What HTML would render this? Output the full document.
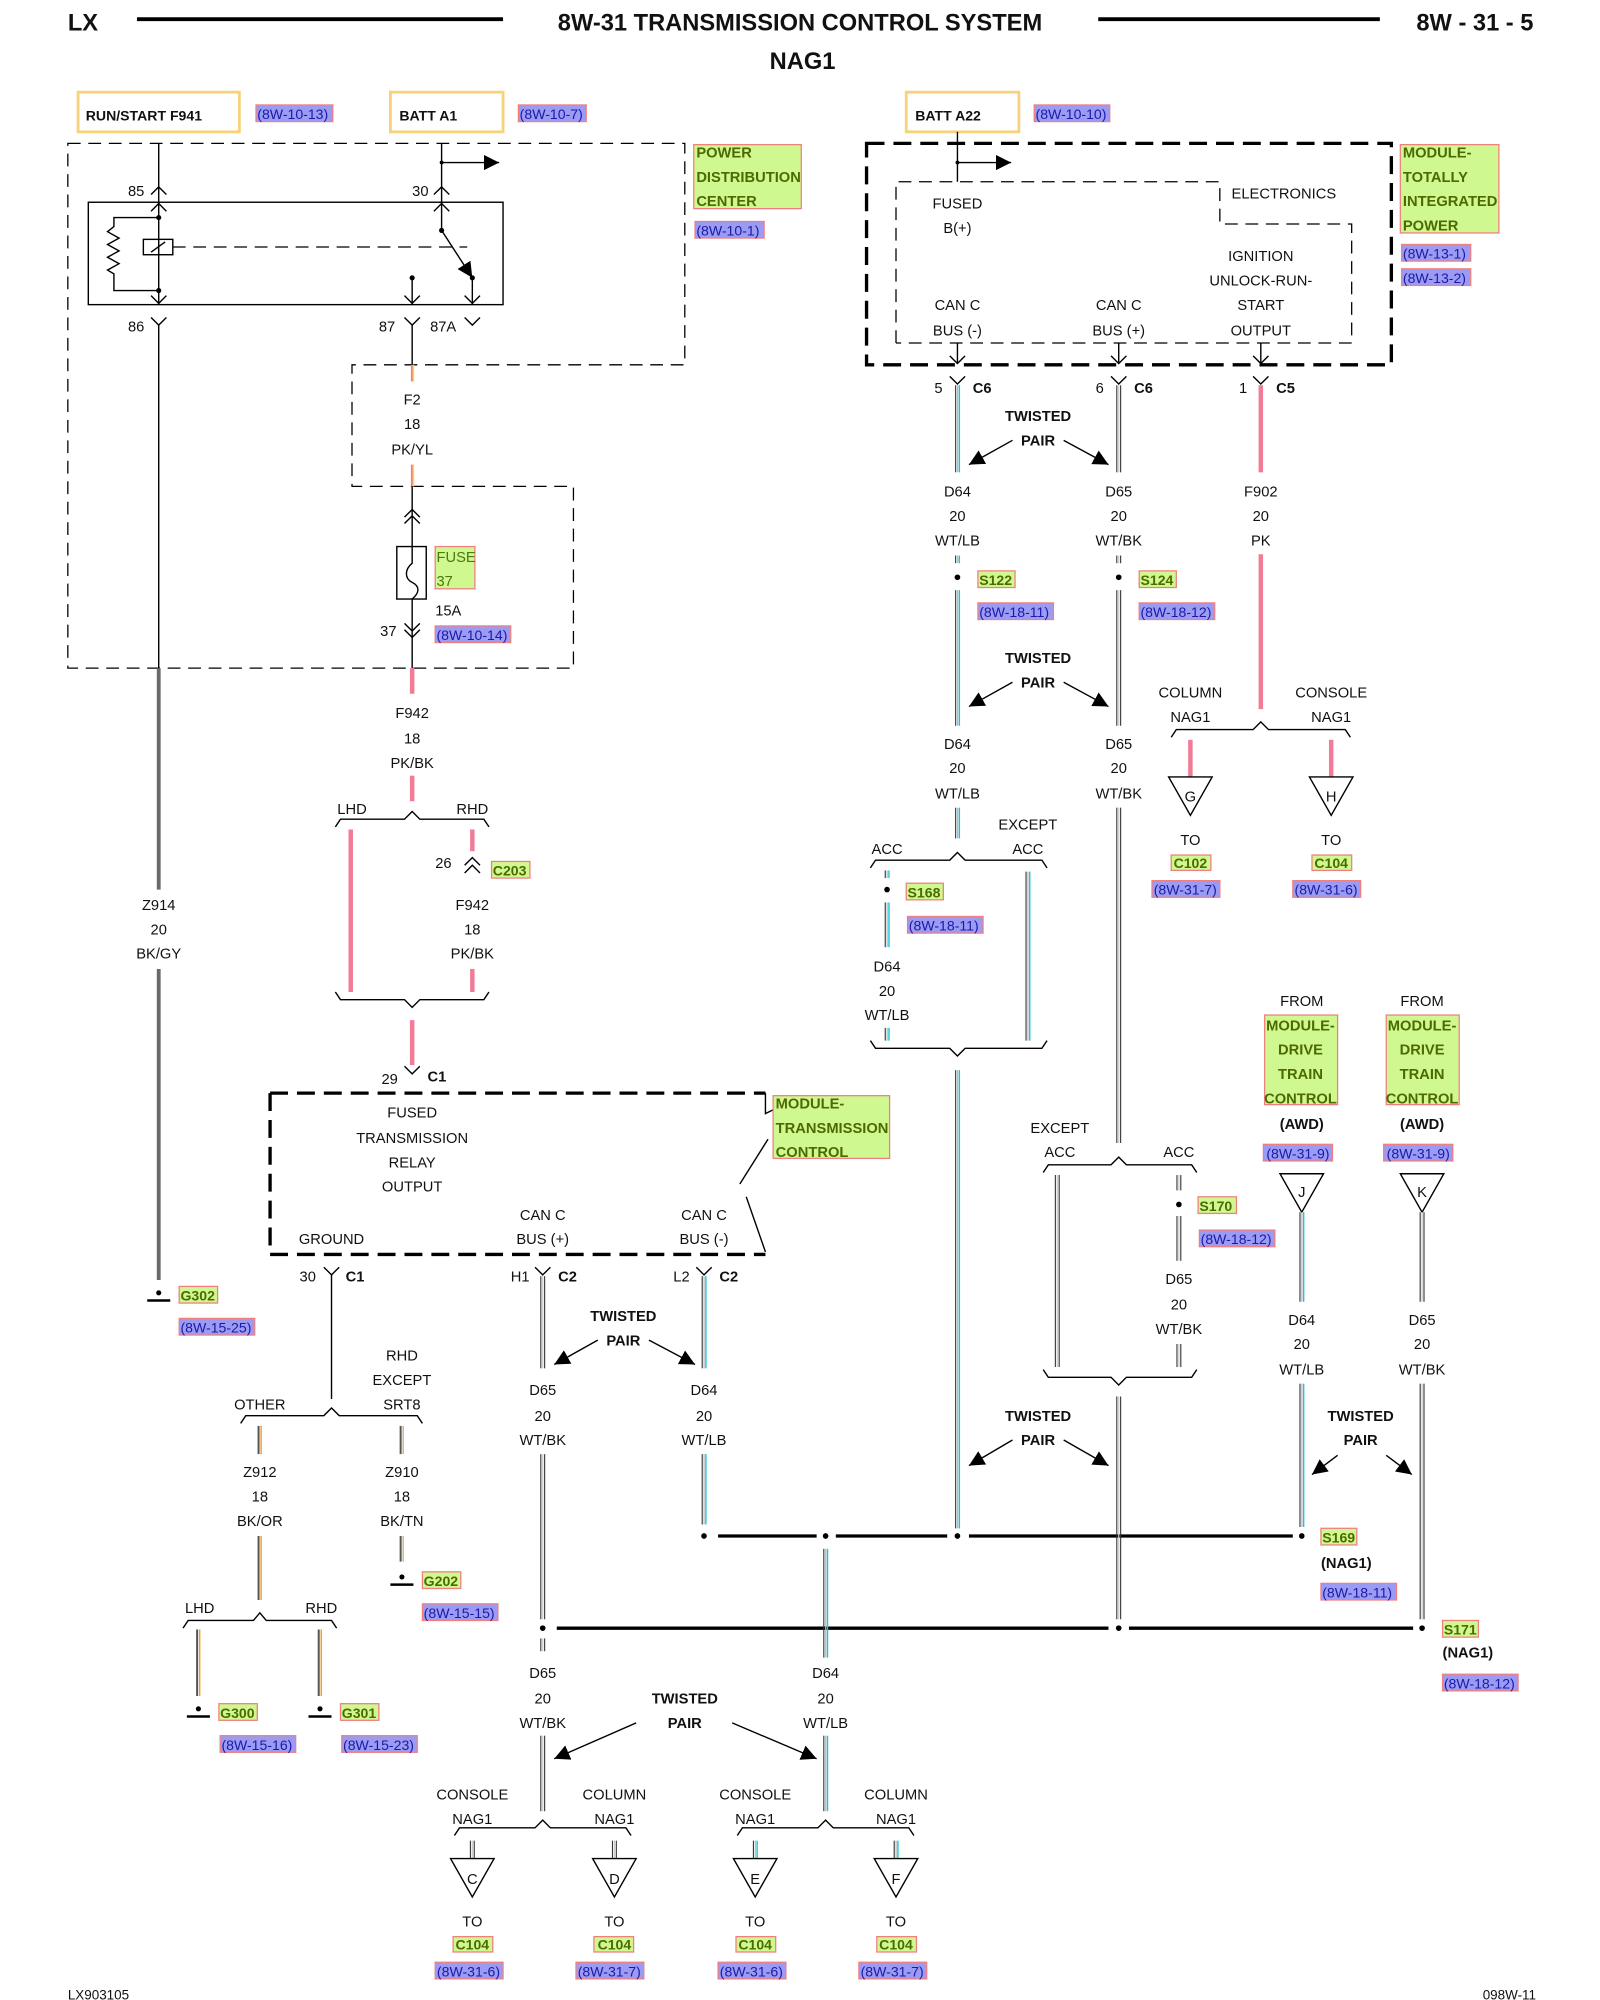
<!DOCTYPE html>
<html><head><meta charset="utf-8"><style>
html,body{margin:0;padding:0;background:#fff}
svg{display:block}
text{font-family:"Liberation Sans",sans-serif;font-size:11.5px;fill:#111}
.m{text-anchor:middle}
.b{font-weight:bold}
.k{stroke:#000;stroke-width:1.1;fill:none}
.d{stroke:#000;stroke-width:1;fill:none;stroke-dasharray:10,6}
.D{stroke:#000;stroke-width:2.6;fill:none;stroke-dasharray:14,7}
.pk{stroke:#f07c98;stroke-width:3.5}
.gw{stroke:#6a6a6a;stroke-width:3}
.yb{fill:none;stroke:#f7d27a;stroke-width:2.2}
.rf{fill:#9b9bf3;stroke:#f08080;stroke-width:1}
.rt{fill:#1a1aa8;font-size:11px}
.gb{fill:#d0f890;stroke:#f08080;stroke-width:1}
.gt{fill:#4c6a00;font-weight:bold;font-size:11.5px}
.gn{fill:#4c7a10;font-size:11.5px}
.bus{stroke:#000;stroke-width:2.6}
</style></head><body>
<svg width="1600" height="2000" viewBox="0 0 1250 1562.5" xmlns="http://www.w3.org/2000/svg">
<defs>
<g id="wc"><line x1="-1.4" y1="0" x2="-1.4" y2="1" stroke="#333" stroke-width="1.1" vector-effect="non-scaling-stroke"/><line x1="0.1" y1="0" x2="0.1" y2="1" stroke="#bbb" stroke-width="1.2" vector-effect="non-scaling-stroke"/><line x1="1.5" y1="0" x2="1.5" y2="1" stroke="#18c8d8" stroke-width="1.4" vector-effect="non-scaling-stroke"/></g>
<g id="wk"><line x1="-1.5" y1="0" x2="-1.5" y2="1" stroke="#333" stroke-width="1.1" vector-effect="non-scaling-stroke"/><line x1="0" y1="0" x2="0" y2="1" stroke="#ccc" stroke-width="1.2" vector-effect="non-scaling-stroke"/><line x1="1.5" y1="0" x2="1.5" y2="1" stroke="#333" stroke-width="1.1" vector-effect="non-scaling-stroke"/></g>
<g id="wo"><line x1="-1" y1="0" x2="-1" y2="1" stroke="#555" stroke-width="2" vector-effect="non-scaling-stroke"/><line x1="1" y1="0" x2="1" y2="1" stroke="#f0a030" stroke-width="1.5" vector-effect="non-scaling-stroke"/></g>
<g id="wt"><line x1="-1" y1="0" x2="-1" y2="1" stroke="#555" stroke-width="2" vector-effect="non-scaling-stroke"/><line x1="1" y1="0" x2="1" y2="1" stroke="#c8b890" stroke-width="1.5" vector-effect="non-scaling-stroke"/></g>
<marker id="ah" viewBox="0 0 10 10" refX="10" refY="5" markerWidth="12" markerHeight="12" markerUnits="userSpaceOnUse" orient="auto"><path d="M0,0L10,5L0,10z" fill="#000"/></marker>
<g id="tri"><path d="M-17,0L17,0L0,30z" fill="#fff" stroke="#000" stroke-width="1.1"/></g>
<g id="gnd"><circle cx="0" cy="-4" r="2" fill="#000"/><line x1="-9" y1="2" x2="9" y2="2" stroke="#000" stroke-width="2"/></g>
</defs>

<!-- header -->
<text x="53" y="24" class="b" style="font-size:18.5px">LX</text>
<line x1="107" y1="15" x2="393" y2="15" stroke="#000" stroke-width="3"/>
<text x="625" y="24" class="b m" style="font-size:18.5px">8W-31 TRANSMISSION CONTROL SYSTEM</text>
<line x1="858" y1="15" x2="1078" y2="15" stroke="#000" stroke-width="3"/>
<text x="1198" y="24" class="b" style="font-size:18.5px;text-anchor:end">8W - 31 - 5</text>
<text x="627" y="54" class="b m" style="font-size:18.5px">NAG1</text>

<!-- top source boxes -->
<rect x="61" y="72" width="126" height="31" class="yb"/><text x="67" y="94" class="b" style="font-size:11px">RUN/START F941</text>
<rect x="200" y="82" width="60" height="13" class="rf"/><text x="201" y="93" class="rt">(8W-10-13)</text>
<rect x="305" y="72" width="88" height="31" class="yb"/><text x="312" y="94" class="b" style="font-size:11px">BATT A1</text>
<rect x="405" y="82" width="53" height="13" class="rf"/><text x="406" y="93" class="rt">(8W-10-7)</text>
<rect x="708" y="72" width="88" height="31" class="yb"/><text x="715" y="94" class="b" style="font-size:11px">BATT A22</text>
<rect x="808" y="82" width="59" height="13" class="rf"/><text x="809" y="93" class="rt">(8W-10-10)</text>

<!-- PDC dashed outline -->
<path d="M53,112H535V285H275V380H448V522H53Z" class="d"/>
<rect x="542" y="113" width="84" height="50" class="gb"/>
<text x="544" y="123" class="gt">POWER</text><text x="544" y="142" class="gt">DISTRIBUTION</text><text x="544" y="161" class="gt">CENTER</text>
<rect x="543" y="173" width="54" height="13" class="rf"/><text x="544" y="184" class="rt">(8W-10-1)</text>

<!-- relay -->
<rect x="69" y="158" width="324" height="80" class="k"/>
<line x1="124" y1="112" x2="124" y2="158" class="k"/>
<path d="M118,152L124,146L130,152" class="k"/><text x="100" y="153">85</text>
<path d="M118,165L124,159L130,165" class="k"/>
<line x1="345" y1="112" x2="345" y2="158" class="k"/>
<line x1="345" y1="127" x2="390" y2="127" class="k" marker-end="url(#ah)"/><circle cx="345" cy="127" r="1.5"/>
<path d="M339,152L345,146L351,152" class="k"/><text x="322" y="153">30</text>
<path d="M339,165L345,159L351,165" class="k"/>
<line x1="124" y1="158" x2="124" y2="238" class="k"/>
<circle cx="124" cy="170" r="2"/><circle cx="124" cy="227" r="2"/>
<path d="M124,170H89V177L84,181L93,186L84,191L93,196L84,201L93,206L84,211L89,214V227H124" class="k"/>
<rect x="112" y="187" width="23" height="12" fill="#fff" class="k"/><line x1="118" y1="197" x2="129" y2="189" class="k"/>
<line x1="135" y1="193" x2="365" y2="193" class="d"/>
<line x1="345" y1="158" x2="345" y2="180" class="k"/><circle cx="345" cy="180" r="2"/>
<line x1="345" y1="180" x2="369" y2="217" class="k" marker-end="url(#ah)"/><circle cx="369" cy="217" r="2"/>
<line x1="369" y1="217" x2="369" y2="238" class="k"/><path d="M363,231L369,237L375,231" class="k"/>
<line x1="322" y1="217" x2="322" y2="238" class="k"/><circle cx="322" cy="217" r="2"/><path d="M316,231L322,237L328,231" class="k"/>
<path d="M118,231L124,237L130,231" class="k"/>
<path d="M118,248L124,254L130,248" class="k"/><text x="100" y="259">86</text>
<path d="M316,248L322,254L328,248" class="k"/><text x="296" y="259">87</text>
<path d="M363,248L369,254L375,248" class="k"/><text x="336" y="259">87A</text>
<line x1="124" y1="254" x2="124" y2="522" class="k"/>
<line x1="124" y1="522" x2="124" y2="695" class="gw"/>
<line x1="124" y1="757" x2="124" y2="1000" class="gw"/>
<text x="124" y="711" class="m">Z914</text><text x="124" y="730" class="m">20</text><text x="124" y="749" class="m">BK/GY</text>
<use href="#gnd" x="124" y="1014"/>
<rect x="140" y="1005" width="30" height="13" class="gb"/><text x="141" y="1016" class="gt" style="font-size:11px">G302</text>
<rect x="140" y="1030" width="59" height="13" class="rf"/><text x="141" y="1041" class="rt">(8W-15-25)</text>

<!-- F2 / fuse -->
<line x1="322" y1="254" x2="322" y2="285" class="k"/>
<line x1="322" y1="285" x2="322" y2="298" stroke="#f07c98" stroke-width="2"/><line x1="323" y1="285" x2="323" y2="298" stroke="#f0e040" stroke-width="1.2"/>
<text x="322" y="316" class="m">F2</text><text x="322" y="335" class="m">18</text><text x="322" y="355" class="m">PK/YL</text>
<line x1="322" y1="363" x2="322" y2="380" stroke="#f07c98" stroke-width="2"/><line x1="323" y1="363" x2="323" y2="380" stroke="#f0e040" stroke-width="1.2"/>
<line x1="322" y1="380" x2="322" y2="427" class="k"/>
<path d="M316,404L322,398L328,404M316,409L322,403L328,409" class="k"/>
<rect x="310" y="427" width="23" height="41" class="k"/>
<path d="M322,427V440C316,445 316,452 322,455C328,458 328,463 322,468" class="k"/>
<line x1="322" y1="468" x2="322" y2="522" class="k"/>
<path d="M316,487L322,493L328,487M316,492L322,498L328,492" class="k"/>
<text x="297" y="497">37</text>
<rect x="340" y="427" width="31" height="33" class="gb"/><text x="341" y="439" class="gn">FUSE</text><text x="341" y="458" class="gn">37</text>
<text x="340" y="481">15A</text>
<rect x="340" y="489" width="59" height="13" class="rf"/><text x="341" y="500" class="rt">(8W-10-14)</text>
<line x1="322" y1="522" x2="322" y2="542" class="pk"/>
<text x="322" y="561" class="m">F942</text><text x="322" y="581" class="m">18</text><text x="322" y="600" class="m">PK/BK</text>
<line x1="322" y1="606" x2="322" y2="626" class="pk"/>
<text x="275" y="636" class="m">LHD</text><text x="369" y="636" class="m">RHD</text>
<path d="M262,646L266,640H316L322,634L328,640H378L382,646" class="k"/>
<line x1="274" y1="648" x2="274" y2="775" class="pk"/>
<line x1="369" y1="648" x2="369" y2="665" class="pk"/>
<path d="M363,676L369,670L375,676M363,682L369,676L375,682" class="k"/>
<text x="340" y="678">26</text>
<rect x="384" y="673" width="30" height="13" class="gb"/><text x="385" y="684" class="gt" style="font-size:11px">C203</text>
<text x="369" y="711" class="m">F942</text><text x="369" y="730" class="m">18</text><text x="369" y="749" class="m">PK/BK</text>
<line x1="369" y1="757" x2="369" y2="775" class="pk"/>
<path d="M262,775L266,781H316L322,787L328,781H378L382,775" class="k"/>
<line x1="322" y1="797" x2="322" y2="832" class="pk"/>
<path d="M316,833L322,839L328,833" class="k"/>
<text x="298" y="847">29</text><text x="334" y="845" class="b">C1</text>

<!-- TCM box -->
<path d="M211,854H598M211,854V980H598" class="D"/>
<path d="M598,854V870L606,866M600,890L578,925M583,935L598,978" class="k"/>
<rect x="604" y="856" width="91" height="49" class="gb"/>
<text x="606" y="866" class="gt">MODULE-</text><text x="606" y="885" class="gt">TRANSMISSION</text><text x="606" y="904" class="gt">CONTROL</text>
<text x="322" y="873" class="m">FUSED</text><text x="322" y="893" class="m">TRANSMISSION</text><text x="322" y="912" class="m">RELAY</text><text x="322" y="931" class="m">OUTPUT</text>
<text x="259" y="972" class="m">GROUND</text>
<text x="424" y="953" class="m">CAN C</text><text x="424" y="972" class="m">BUS (+)</text>
<text x="550" y="953" class="m">CAN C</text><text x="550" y="972" class="m">BUS (-)</text>
<path d="M253,990L259,996L265,990" class="k"/><text x="234" y="1001">30</text><text x="270" y="1001" class="b">C1</text>
<path d="M418,990L424,996L430,990" class="k"/><text x="399" y="1001">H1</text><text x="436" y="1001" class="b">C2</text>
<path d="M544,990L550,996L556,990" class="k"/><text x="526" y="1001">L2</text><text x="562" y="1001" class="b">C2</text>

<!-- ground branch -->
<line x1="259" y1="996" x2="259" y2="1093" class="k"/>
<text x="314" y="1063" class="m">RHD</text><text x="314" y="1082" class="m">EXCEPT</text><text x="314" y="1101" class="m">SRT8</text>
<text x="203" y="1101" class="m">OTHER</text>
<path d="M188,1112L192,1106H253L259,1100L265,1106H326L330,1112" class="k"/>
<use href="#wo" transform="translate(203,1114) scale(1,22)"/>
<use href="#wt" transform="translate(314,1114) scale(1,22)"/>
<text x="203" y="1154" class="m">Z912</text><text x="203" y="1173" class="m">18</text><text x="203" y="1192" class="m">BK/OR</text>
<text x="314" y="1154" class="m">Z910</text><text x="314" y="1173" class="m">18</text><text x="314" y="1192" class="m">BK/TN</text>
<use href="#wo" transform="translate(203,1200) scale(1,50)"/>
<use href="#wt" transform="translate(314,1200) scale(1,20)"/>
<use href="#gnd" x="314" y="1236"/>
<rect x="330" y="1228" width="30" height="13" class="gb"/><text x="331" y="1239" class="gt" style="font-size:11px">G202</text>
<rect x="330" y="1253" width="59" height="13" class="rf"/><text x="331" y="1264" class="rt">(8W-15-15)</text>
<text x="156" y="1260" class="m">LHD</text><text x="251" y="1260" class="m">RHD</text>
<path d="M143,1272L147,1266H198L203,1260L208,1266H259L263,1272" class="k"/>
<use href="#wo" transform="translate(155,1273) scale(1,52)"/>
<use href="#wo" transform="translate(250,1273) scale(1,52)"/>
<use href="#gnd" x="155" y="1339"/><use href="#gnd" x="250" y="1339"/>
<rect x="171" y="1331" width="30" height="13" class="gb"/><text x="172" y="1342" class="gt" style="font-size:11px">G300</text>
<rect x="266" y="1331" width="30" height="13" class="gb"/><text x="267" y="1342" class="gt" style="font-size:11px">G301</text>
<rect x="172" y="1356" width="59" height="13" class="rf"/><text x="173" y="1367" class="rt">(8W-15-16)</text>
<rect x="267" y="1356" width="59" height="13" class="rf"/><text x="268" y="1367" class="rt">(8W-15-23)</text>

<!-- H1 / L2 wires -->
<use href="#wk" transform="translate(424,997) scale(1,72)"/>
<use href="#wc" transform="translate(550,997) scale(1,72)"/>
<text x="487" y="1032" class="m b">TWISTED</text><text x="487" y="1051" class="m b">PAIR</text>
<line x1="467" y1="1047" x2="433" y2="1066" class="k" marker-end="url(#ah)"/>
<line x1="507" y1="1047" x2="543" y2="1066" class="k" marker-end="url(#ah)"/>
<text x="424" y="1090" class="m">D65</text><text x="424" y="1110" class="m">20</text><text x="424" y="1129" class="m">WT/BK</text>
<text x="550" y="1090" class="m">D64</text><text x="550" y="1110" class="m">20</text><text x="550" y="1129" class="m">WT/LB</text>
<use href="#wk" transform="translate(424,1136) scale(1,129)"/>
<use href="#wc" transform="translate(550,1136) scale(1,55)"/>
<circle cx="424" cy="1272" r="2.2"/>
<line x1="435" y1="1272" x2="866" y2="1272" class="bus"/>
<line x1="882" y1="1272" x2="1104" y2="1272" class="bus"/>
<circle cx="874" cy="1272" r="2.2"/><circle cx="1111" cy="1272" r="2.2"/>
<circle cx="550" cy="1200" r="2.2"/>
<line x1="561" y1="1200" x2="638" y2="1200" class="bus"/><line x1="653" y1="1200" x2="740" y2="1200" class="bus"/><line x1="757" y1="1200" x2="1010" y2="1200" class="bus"/>
<circle cx="645" cy="1200" r="2.2"/><circle cx="748" cy="1200" r="2.2"/><circle cx="1017" cy="1200" r="2.2"/>
<rect x="1032" y="1194" width="28" height="13" class="gb"/><text x="1033" y="1205" class="gt" style="font-size:11px">S169</text>
<text x="1032" y="1225" class="b">(NAG1)</text>
<rect x="1032" y="1237" width="59" height="13" class="rf"/><text x="1033" y="1248" class="rt">(8W-18-11)</text>
<rect x="1127" y="1266" width="28" height="13" class="gb"/><text x="1128" y="1277" class="gt" style="font-size:11px">S171</text>
<text x="1127" y="1295" class="b">(NAG1)</text>
<rect x="1127" y="1308" width="59" height="13" class="rf"/><text x="1128" y="1319" class="rt">(8W-18-12)</text>

<use href="#wk" transform="translate(424,1280) scale(1,10)"/>
<use href="#wc" transform="translate(645,1210) scale(1,85)"/>
<text x="424" y="1311" class="m">D65</text><text x="424" y="1331" class="m">20</text><text x="424" y="1350" class="m">WT/BK</text>
<text x="645" y="1311" class="m">D64</text><text x="645" y="1331" class="m">20</text><text x="645" y="1350" class="m">WT/LB</text>
<text x="535" y="1331" class="m b">TWISTED</text><text x="535" y="1350" class="m b">PAIR</text>
<line x1="497" y1="1346" x2="433" y2="1374" class="k" marker-end="url(#ah)"/>
<line x1="572" y1="1346" x2="638" y2="1374" class="k" marker-end="url(#ah)"/>
<use href="#wk" transform="translate(424,1356) scale(1,59)"/>
<use href="#wc" transform="translate(645,1356) scale(1,59)"/>
<text x="369" y="1406" class="m">CONSOLE</text><text x="369" y="1425" class="m">NAG1</text>
<text x="480" y="1406" class="m">COLUMN</text><text x="480" y="1425" class="m">NAG1</text>
<text x="590" y="1406" class="m">CONSOLE</text><text x="590" y="1425" class="m">NAG1</text>
<text x="700" y="1406" class="m">COLUMN</text><text x="700" y="1425" class="m">NAG1</text>
<path d="M355,1434L359,1428H418L424,1422L430,1428H489L493,1434" class="k"/>
<path d="M576,1434L580,1428H639L645,1422L651,1428H710L714,1434" class="k"/>
<use href="#wk" transform="translate(369,1438) scale(1,14)"/>
<use href="#wk" transform="translate(480,1438) scale(1,14)"/>
<use href="#wc" transform="translate(590,1438) scale(1,14)"/>
<use href="#wc" transform="translate(700,1438) scale(1,14)"/>
<use href="#tri" x="369" y="1452"/><text x="369" y="1472" class="m">C</text>
<use href="#tri" x="480" y="1452"/><text x="480" y="1472" class="m">D</text>
<use href="#tri" x="590" y="1452"/><text x="590" y="1472" class="m">E</text>
<use href="#tri" x="700" y="1452"/><text x="700" y="1472" class="m">F</text>
<text x="369" y="1505" class="m">TO</text><text x="480" y="1505" class="m">TO</text><text x="590" y="1505" class="m">TO</text><text x="700" y="1505" class="m">TO</text>
<rect x="354" y="1513" width="31" height="12" class="gb"/><text x="369" y="1523" class="m gt" style="font-size:11px">C104</text>
<rect x="464" y="1513" width="31" height="12" class="gb"/><text x="480" y="1523" class="m gt" style="font-size:11px">C104</text>
<rect x="575" y="1513" width="31" height="12" class="gb"/><text x="590" y="1523" class="m gt" style="font-size:11px">C104</text>
<rect x="685" y="1513" width="31" height="12" class="gb"/><text x="700" y="1523" class="m gt" style="font-size:11px">C104</text>
<rect x="340" y="1533" width="53" height="13" class="rf"/><text x="366" y="1544" class="m rt">(8W-31-6)</text>
<rect x="450" y="1533" width="53" height="13" class="rf"/><text x="476" y="1544" class="m rt">(8W-31-7)</text>
<rect x="561" y="1533" width="53" height="13" class="rf"/><text x="587" y="1544" class="m rt">(8W-31-6)</text>
<rect x="671" y="1533" width="53" height="13" class="rf"/><text x="697" y="1544" class="m rt">(8W-31-7)</text>

<!-- TIPM -->
<rect x="677" y="112" width="410" height="173" class="D"/>
<path d="M700,268V142H953V175H1056V268H700" class="d"/>
<line x1="748" y1="103" x2="748" y2="142" class="k"/>
<line x1="748" y1="127" x2="790" y2="127" class="k" marker-end="url(#ah)"/><circle cx="748" cy="127" r="1.5"/>
<rect x="1094" y="113" width="77" height="69" class="gb"/>
<text x="1096" y="123" class="gt">MODULE-</text><text x="1096" y="142" class="gt">TOTALLY</text><text x="1096" y="161" class="gt">INTEGRATED</text><text x="1096" y="180" class="gt">POWER</text>
<rect x="1095" y="191" width="54" height="13" class="rf"/><text x="1096" y="202" class="rt">(8W-13-1)</text>
<rect x="1095" y="210" width="54" height="13" class="rf"/><text x="1096" y="221" class="rt">(8W-13-2)</text>
<text x="748" y="163" class="m">FUSED</text><text x="748" y="182" class="m">B(+)</text>
<text x="1003" y="155" class="m">ELECTRONICS</text>
<text x="985" y="204" class="m">IGNITION</text><text x="985" y="223" class="m">UNLOCK-RUN-</text><text x="985" y="242" class="m">START</text><text x="985" y="262" class="m">OUTPUT</text>
<text x="748" y="242" class="m">CAN C</text><text x="748" y="262" class="m">BUS (-)</text>
<text x="874" y="242" class="m">CAN C</text><text x="874" y="262" class="m">BUS (+)</text>
<line x1="748" y1="268" x2="748" y2="284" class="k"/><path d="M742,278L748,284L754,278" class="k"/>
<line x1="874" y1="268" x2="874" y2="284" class="k"/><path d="M868,278L874,284L880,278" class="k"/>
<line x1="985" y1="268" x2="985" y2="284" class="k"/><path d="M979,278L985,284L991,278" class="k"/>
<path d="M742,294L748,300L754,294" class="k"/><text x="730" y="307">5</text><text x="760" y="307" class="b">C6</text>
<path d="M868,294L874,300L880,294" class="k"/><text x="856" y="307">6</text><text x="886" y="307" class="b">C6</text>
<path d="M979,294L985,300L991,294" class="k"/><text x="968" y="307">1</text><text x="997" y="307" class="b">C5</text>
<use href="#wc" transform="translate(748,301) scale(1,68)"/>
<use href="#wk" transform="translate(874,301) scale(1,68)"/>
<line x1="985" y1="301" x2="985" y2="369" class="pk"/>
<text x="811" y="329" class="m b">TWISTED</text><text x="811" y="348" class="m b">PAIR</text>
<line x1="791" y1="344" x2="757" y2="363" class="k" marker-end="url(#ah)"/>
<line x1="831" y1="344" x2="866" y2="363" class="k" marker-end="url(#ah)"/>
<text x="748" y="388" class="m">D64</text><text x="748" y="407" class="m">20</text><text x="748" y="426" class="m">WT/LB</text>
<text x="874" y="388" class="m">D65</text><text x="874" y="407" class="m">20</text><text x="874" y="426" class="m">WT/BK</text>
<text x="985" y="388" class="m">F902</text><text x="985" y="407" class="m">20</text><text x="985" y="426" class="m">PK</text>
<use href="#wc" transform="translate(748,434) scale(1,6)"/>
<use href="#wk" transform="translate(874,434) scale(1,6)"/>
<circle cx="748" cy="451" r="2.2"/><circle cx="874" cy="451" r="2.2"/>
<rect x="764" y="446" width="29" height="13" class="gb"/><text x="765" y="457" class="gt" style="font-size:11px">S122</text>
<rect x="890" y="446" width="29" height="13" class="gb"/><text x="891" y="457" class="gt" style="font-size:11px">S124</text>
<rect x="764" y="471" width="59" height="13" class="rf"/><text x="765" y="482" class="rt">(8W-18-11)</text>
<rect x="890" y="471" width="59" height="13" class="rf"/><text x="891" y="482" class="rt">(8W-18-12)</text>
<use href="#wc" transform="translate(748,461) scale(1,106)"/>
<use href="#wk" transform="translate(874,461) scale(1,106)"/>
<line x1="985" y1="433" x2="985" y2="554" class="pk"/>
<text x="811" y="518" class="m b">TWISTED</text><text x="811" y="537" class="m b">PAIR</text>
<line x1="791" y1="533" x2="757" y2="552" class="k" marker-end="url(#ah)"/>
<line x1="831" y1="533" x2="866" y2="552" class="k" marker-end="url(#ah)"/>
<text x="748" y="585" class="m">D64</text><text x="748" y="604" class="m">20</text><text x="748" y="624" class="m">WT/LB</text>
<text x="874" y="585" class="m">D65</text><text x="874" y="604" class="m">20</text><text x="874" y="624" class="m">WT/BK</text>

<!-- F902 branch -->
<text x="930" y="545" class="m">COLUMN</text><text x="930" y="564" class="m">NAG1</text>
<text x="1040" y="545" class="m">CONSOLE</text><text x="1040" y="564" class="m">NAG1</text>
<path d="M915,576L919,570H979L985,564L991,570H1051L1055,576" class="k"/>
<line x1="930" y1="578" x2="930" y2="607" class="pk"/><line x1="1040" y1="578" x2="1040" y2="607" class="pk"/>
<use href="#tri" x="930" y="607"/><text x="930" y="626" class="m">G</text>
<use href="#tri" x="1040" y="607"/><text x="1040" y="626" class="m">H</text>
<text x="930" y="660" class="m">TO</text><text x="1040" y="660" class="m">TO</text>
<rect x="915" y="668" width="31" height="12" class="gb"/><text x="930" y="678" class="m gt" style="font-size:11px">C102</text>
<rect x="1025" y="668" width="31" height="12" class="gb"/><text x="1040" y="678" class="m gt" style="font-size:11px">C104</text>
<rect x="900" y="688" width="53" height="13" class="rf"/><text x="926" y="699" class="m rt">(8W-31-7)</text>
<rect x="1010" y="688" width="53" height="13" class="rf"/><text x="1036" y="699" class="m rt">(8W-31-6)</text>

<!-- D64 ACC branch -->
<use href="#wc" transform="translate(748,631) scale(1,24)"/>
<text x="693" y="667" class="m">ACC</text>
<text x="803" y="648" class="m">EXCEPT</text><text x="803" y="667" class="m">ACC</text>
<path d="M680,678L684,672H742L748,666L754,672H814L818,678" class="k"/>
<use href="#wc" transform="translate(693,680) scale(1,6)"/>
<circle cx="693" cy="695" r="2.2"/>
<use href="#wc" transform="translate(693,705) scale(1,35)"/>
<rect x="708" y="690" width="29" height="13" class="gb"/><text x="709" y="701" class="gt" style="font-size:11px">S168</text>
<rect x="709" y="716" width="59" height="13" class="rf"/><text x="710" y="727" class="rt">(8W-18-11)</text>
<text x="693" y="759" class="m">D64</text><text x="693" y="778" class="m">20</text><text x="693" y="797" class="m">WT/LB</text>
<use href="#wc" transform="translate(693,803) scale(1,10)"/>
<use href="#wc" transform="translate(803,681) scale(1,132)"/>
<path d="M680,813L684,819H742L748,825L754,819H814L818,813" class="k"/>
<use href="#wc" transform="translate(748,836) scale(1,358)"/>

<!-- D65 ACC branch -->
<use href="#wk" transform="translate(874,631) scale(1,262)"/>
<text x="828" y="885" class="m">EXCEPT</text><text x="828" y="904" class="m">ACC</text>
<text x="921" y="904" class="m">ACC</text>
<path d="M815,916L819,910H868L874,904L880,910H931L935,916" class="k"/>
<use href="#wk" transform="translate(826,918) scale(1,150)"/>
<use href="#wk" transform="translate(921,918) scale(1,12)"/>
<circle cx="921" cy="941" r="2.2"/>
<use href="#wk" transform="translate(921,950) scale(1,35)"/>
<rect x="936" y="935" width="30" height="13" class="gb"/><text x="937" y="946" class="gt" style="font-size:11px">S170</text>
<rect x="937" y="961" width="59" height="13" class="rf"/><text x="938" y="972" class="rt">(8W-18-12)</text>
<text x="921" y="1003" class="m">D65</text><text x="921" y="1023" class="m">20</text><text x="921" y="1042" class="m">WT/BK</text>
<use href="#wk" transform="translate(921,1050) scale(1,18)"/>
<path d="M815,1070L819,1076H868L874,1082L880,1076H931L935,1070" class="k"/>
<use href="#wk" transform="translate(874,1091) scale(1,174)"/>
<text x="811" y="1110" class="m b">TWISTED</text><text x="811" y="1129" class="m b">PAIR</text>
<line x1="791" y1="1125" x2="757" y2="1145" class="k" marker-end="url(#ah)"/>
<line x1="831" y1="1125" x2="866" y2="1145" class="k" marker-end="url(#ah)"/>

<!-- FROM modules -->
<text x="1017" y="786" class="m">FROM</text><text x="1111" y="786" class="m">FROM</text>
<rect x="988" y="793" width="57" height="70" class="gb"/>
<text x="1016" y="805" class="m gt">MODULE-</text><text x="1016" y="824" class="m gt">DRIVE</text><text x="1016" y="843" class="m gt">TRAIN</text><text x="1016" y="862" class="m gt">CONTROL</text>
<rect x="1083" y="793" width="57" height="70" class="gb"/>
<text x="1111" y="805" class="m gt">MODULE-</text><text x="1111" y="824" class="m gt">DRIVE</text><text x="1111" y="843" class="m gt">TRAIN</text><text x="1111" y="862" class="m gt">CONTROL</text>
<text x="1017" y="882" class="m b">(AWD)</text><text x="1111" y="882" class="m b">(AWD)</text>
<rect x="987" y="894" width="54" height="13" class="rf"/><text x="1014" y="905" class="m rt">(8W-31-9)</text>
<rect x="1081" y="894" width="54" height="13" class="rf"/><text x="1108" y="905" class="m rt">(8W-31-9)</text>
<use href="#tri" x="1017" y="917"/><text x="1017" y="935" class="m">J</text>
<use href="#tri" x="1111" y="917"/><text x="1111" y="935" class="m">K</text>
<use href="#wc" transform="translate(1017,947) scale(1,70)"/>
<use href="#wk" transform="translate(1111,947) scale(1,70)"/>
<text x="1017" y="1035" class="m">D64</text><text x="1017" y="1054" class="m">20</text><text x="1017" y="1074" class="m">WT/LB</text>
<text x="1111" y="1035" class="m">D65</text><text x="1111" y="1054" class="m">20</text><text x="1111" y="1074" class="m">WT/BK</text>
<use href="#wc" transform="translate(1017,1081) scale(1,112)"/>
<use href="#wk" transform="translate(1111,1081) scale(1,184)"/>
<text x="1063" y="1110" class="m b">TWISTED</text><text x="1063" y="1129" class="m b">PAIR</text>
<line x1="1045" y1="1137" x2="1025" y2="1152" class="k" marker-end="url(#ah)"/>
<line x1="1083" y1="1137" x2="1103" y2="1152" class="k" marker-end="url(#ah)"/>

<!-- footer -->
<text x="53" y="1562" style="font-size:10.5px">LX903105</text>
<text x="1200" y="1562" style="font-size:10.5px;text-anchor:end">098W-11</text>
</svg>
</body></html>
